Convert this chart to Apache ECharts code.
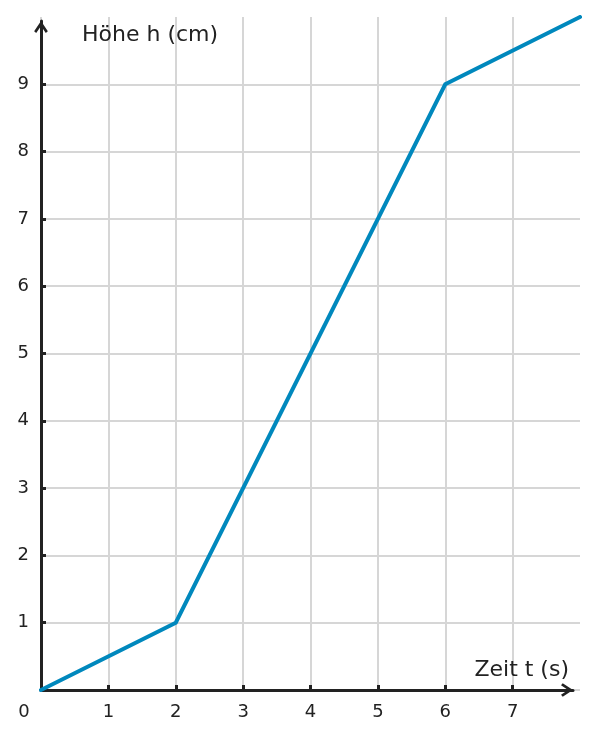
<!DOCTYPE html>
<html>
<head>
<meta charset="utf-8">
<style>
  html, body { margin: 0; padding: 0; background: #fff; }
  #chart { width: 597px; height: 739px; }
</style>
<script src="https://cdn.jsdelivr.net/npm/echarts@6/dist/echarts.min.js"></script>
</head>
<body>
<div id="chart"></div>
<script>
// Messpunkte: Zeit t (s) und Höhe h (cm)
var zeit = [0, 2, 6, 8];
var hoehe = [0, 1, 9, 10];

var xTicks = [0, 1, 2, 3, 4, 5, 6, 7];
var yTicks = [0, 1, 2, 3, 4, 5, 6, 7, 8, 9];
var yLabels = [1, 2, 3, 4, 5, 6, 7, 8, 9];

var xName = "Zeit t (s)";
var yName = "Höhe h (cm)";

var myChart = echarts.init(document.getElementById("chart"));

var axisColor = "#222222";
var textColor = "#222222";
var gridColor = "#d6d6d6";
var fontFamily = "DejaVu Sans";

// offener Pfeil für die Achsenenden
var arrow = "path://M0,9 L6,0 L12,9 L10.2,10.5 L6,4.3 L1.8,10.5 Z";

// nur die dunklen Achsenlinien mit Pfeil (zweites Raster, endet an der Pfeilspitze)
function arrowAxis(gridIndex) {
  return {
    type: "value",
    gridIndex: gridIndex,
    min: 0,
    max: 1,
    z: 2,
    axisLine: {
      show: true,
      symbol: ["none", arrow],
      symbolSize: [14, 12],
      symbolOffset: [0, -6],
      lineStyle: { color: axisColor, width: 3 },
    },
    axisTick: { show: false },
    axisLabel: { show: false },
    splitLine: { show: false },
  };
}

var option = {
  animation: false,
  backgroundColor: "#ffffff",
  grid: [
    { left: 41, right: 17, top: 17, bottom: 49 },
    { left: 41, right: 24, top: 21, bottom: 49 },
  ],
  xAxis: [
    {
      type: "value",
      gridIndex: 0,
      min: 0,
      max: 8,
      interval: 1,
      z: 0,
      name: xName,
      nameLocation: "end",
      nameGap: -11,
      nameTextStyle: {
        color: textColor,
        fontFamily: fontFamily,
        fontSize: 22,
        align: "right",
        verticalAlign: "bottom",
        padding: [0, 0, 9, 0],
      },
      axisLine: { show: false },
      axisTick: {
        show: true,
        inside: true,
        length: 5,
        lineStyle: { color: axisColor, width: 3 },
        customValues: xTicks,
      },
      axisLabel: {
        color: textColor,
        fontFamily: fontFamily,
        fontSize: 18,
        margin: 13,
        customValues: xTicks,
        formatter: function (v) {
          return v === 0 ? "{z|0}" : String(v);
        },
        rich: { z: { padding: [0, 34, 0, 0], fontSize: 18, fontFamily: fontFamily, color: textColor } },
      },
      splitLine: {
        show: true,
        showMinLine: true,
        showMaxLine: true,
        lineStyle: { color: gridColor, width: 2 },
      },
    },
    arrowAxis(1),
  ],
  yAxis: [
    {
      type: "value",
      gridIndex: 0,
      min: 0,
      max: 10,
      interval: 1,
      z: 0,
      name: yName,
      nameLocation: "end",
      nameGap: -29,
      nameTextStyle: {
        color: textColor,
        fontFamily: fontFamily,
        fontSize: 22,
        align: "left",
        padding: [0, 0, 0, 41],
      },
      axisLine: { show: false },
      axisTick: {
        show: true,
        inside: true,
        length: 5,
        lineStyle: { color: axisColor, width: 3 },
        customValues: yTicks,
      },
      axisLabel: {
        color: textColor,
        fontFamily: fontFamily,
        fontSize: 18,
        margin: 12,
        customValues: yLabels,
      },
      splitLine: {
        show: true,
        showMinLine: true,
        showMaxLine: true,
        lineStyle: { color: gridColor, width: 2 },
      },
    },
    arrowAxis(1),
  ],
  series: [
    {
      name: "Höhe",
      type: "line",
      xAxisIndex: 0,
      yAxisIndex: 0,
      data: zeit.map(function (t, i) { return [t, hoehe[i]]; }),
      symbol: "none",
      z: 3,
      lineStyle: { color: "#0088bd", width: 4, cap: "round", join: "miter" },
    },
  ],
};

myChart.setOption(option);
</script>
</body>
</html>
